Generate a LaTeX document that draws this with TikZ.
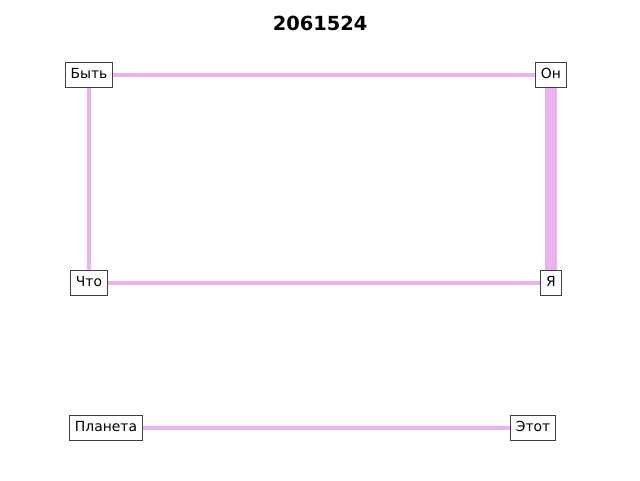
\documentclass[tikz,border=0pt]{standalone}
\usepackage{fontspec}
\setmainfont{DejaVu Sans}
\definecolor{edgepink}{RGB}{236,178,236}
\definecolor{boxgray}{RGB}{64,64,64}
\tikzset{
  lbl/.style={draw=boxgray, line width=1pt, fill=white, inner xsep=5.5pt, inner ysep=0pt,
    text height=10pt, text depth=3pt, minimum height=25pt, font=\fontsize{13.9}{16}\selectfont},
  thinedge/.style={draw=edgepink, line width=4pt},
  thickedge/.style={draw=edgepink, line width=12pt},
}
\begin{document}
\begin{tikzpicture}[x=1pt,y=-1pt]
\useasboundingbox (0,0) rectangle (640,480);
\node[font=\fontsize{19.4}{22}\selectfont\bfseries] (title) at (320,23) {2061524};
\coordinate (cB) at (89,75);
\coordinate (cO) at (551,75);
\coordinate (cC) at (89,283);
\coordinate (cY) at (551,283);
\coordinate (cP) at (106,428);
\coordinate (cE) at (533,428);
\draw[thinedge] (cB) -- (cO);
\draw[thinedge] (cB) -- (cC);
\draw[thinedge] (cC) -- (cY);
\draw[thickedge] (cO) -- (cY);
\draw[thinedge] (cP) -- (cE);
\node[lbl] (B) at (cB) {Быть};
\node[lbl] (O) at (cO) {Он};
\node[lbl] (C) at (cC) {Что};
\node[lbl] (Y) at (cY) {Я};
\node[lbl] (P) at (cP) {Планета};
\node[lbl] (E) at (cE) {Этот};
\end{tikzpicture}
\end{document}
